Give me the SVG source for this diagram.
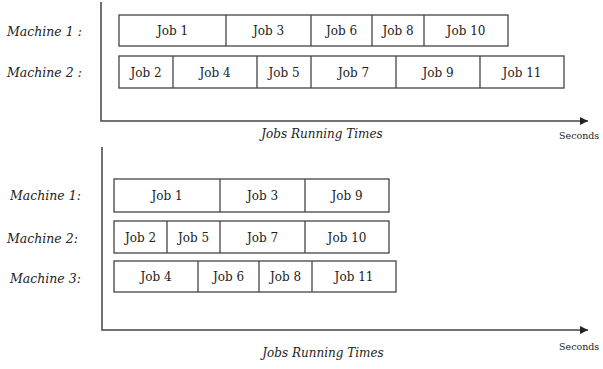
<svg xmlns="http://www.w3.org/2000/svg" width="603" height="369" viewBox="0 0 603 369">
<style>
.box{fill:#fff;stroke:#444;stroke-width:1.3}
.sep{stroke:#444;stroke-width:1.3}
.t{font-family:"DejaVu Serif",serif;font-size:12px;fill:#222;text-anchor:middle}
.lbl{font-family:"DejaVu Serif",serif;font-style:italic;font-size:12.5px;fill:#222}
.ax{stroke:#444;stroke-width:1.5;fill:none}
.cap{font-family:"DejaVu Serif",serif;font-style:italic;font-size:12px;fill:#222;text-anchor:middle}
.sec{font-family:"DejaVu Serif",serif;font-size:9.5px;fill:#222}
</style>
<defs>
<marker id="ah" viewBox="0 0 10 10" refX="10" refY="5" markerWidth="11" markerHeight="8" markerUnits="userSpaceOnUse" orient="auto"><path d="M0,0 L10,5 L0,10 z" fill="#222"/></marker>
</defs>
<rect width="603" height="369" fill="#fff"/>
<g id="connectors">
<path class="ax" d="M101,2 V121 H588" marker-end="url(#ah)"/>
<path class="ax" d="M102,147 V330 H588" marker-end="url(#ah)"/>
</g>
<g id="labels">
<text class="lbl" x="7" y="36">Machine 1 :</text>
<text class="lbl" x="7" y="77">Machine 2 :</text>
<text class="cap" x="322" y="138">Jobs Running Times</text>
<text class="sec" x="559" y="139">Seconds</text>
<text class="lbl" x="10" y="200">Machine 1:</text>
<text class="lbl" x="7" y="243">Machine 2:</text>
<text class="lbl" x="10" y="283">Machine 3:</text>
<text class="cap" x="323" y="357">Jobs Running Times</text>
<text class="sec" x="559" y="350">Seconds</text>
</g>
<g id="top-m1">
<rect class="box" x="119" y="15" width="389" height="31"/>
<line class="sep" x1="226" y1="15" x2="226" y2="46"/>
<line class="sep" x1="311" y1="15" x2="311" y2="46"/>
<line class="sep" x1="372" y1="15" x2="372" y2="46"/>
<line class="sep" x1="424" y1="15" x2="424" y2="46"/>
<text class="t" x="172.5" y="35">Job 1</text>
<text class="t" x="268.5" y="35">Job 3</text>
<text class="t" x="341.5" y="35">Job 6</text>
<text class="t" x="398" y="35">Job 8</text>
<text class="t" x="466" y="35">Job 10</text>
</g>
<g id="top-m2">
<rect class="box" x="119" y="56" width="445" height="32"/>
<line class="sep" x1="173" y1="56" x2="173" y2="88"/>
<line class="sep" x1="257" y1="56" x2="257" y2="88"/>
<line class="sep" x1="311" y1="56" x2="311" y2="88"/>
<line class="sep" x1="396" y1="56" x2="396" y2="88"/>
<line class="sep" x1="480" y1="56" x2="480" y2="88"/>
<text class="t" x="146" y="77">Job 2</text>
<text class="t" x="215" y="77">Job 4</text>
<text class="t" x="284" y="77">Job 5</text>
<text class="t" x="353.5" y="77">Job 7</text>
<text class="t" x="438" y="77">Job 9</text>
<text class="t" x="522" y="77">Job 11</text>
</g>
<g id="bot-m1">
<rect class="box" x="114" y="179" width="275" height="33"/>
<line class="sep" x1="220" y1="179" x2="220" y2="212"/>
<line class="sep" x1="305" y1="179" x2="305" y2="212"/>
<text class="t" x="167" y="200">Job 1</text>
<text class="t" x="262.5" y="200">Job 3</text>
<text class="t" x="347" y="200">Job 9</text>
</g>
<g id="bot-m2">
<rect class="box" x="114" y="221" width="275" height="32"/>
<line class="sep" x1="167" y1="221" x2="167" y2="253"/>
<line class="sep" x1="220" y1="221" x2="220" y2="253"/>
<line class="sep" x1="305" y1="221" x2="305" y2="253"/>
<text class="t" x="140.5" y="242">Job 2</text>
<text class="t" x="193.5" y="242">Job 5</text>
<text class="t" x="262.5" y="242">Job 7</text>
<text class="t" x="347" y="242">Job 10</text>
</g>
<g id="bot-m3">
<rect class="box" x="114" y="261" width="282" height="31"/>
<line class="sep" x1="198" y1="261" x2="198" y2="292"/>
<line class="sep" x1="259" y1="261" x2="259" y2="292"/>
<line class="sep" x1="312" y1="261" x2="312" y2="292"/>
<text class="t" x="156" y="281">Job 4</text>
<text class="t" x="228.5" y="281">Job 6</text>
<text class="t" x="285.5" y="281">Job 8</text>
<text class="t" x="354" y="281">Job 11</text>
</g>
</svg>
